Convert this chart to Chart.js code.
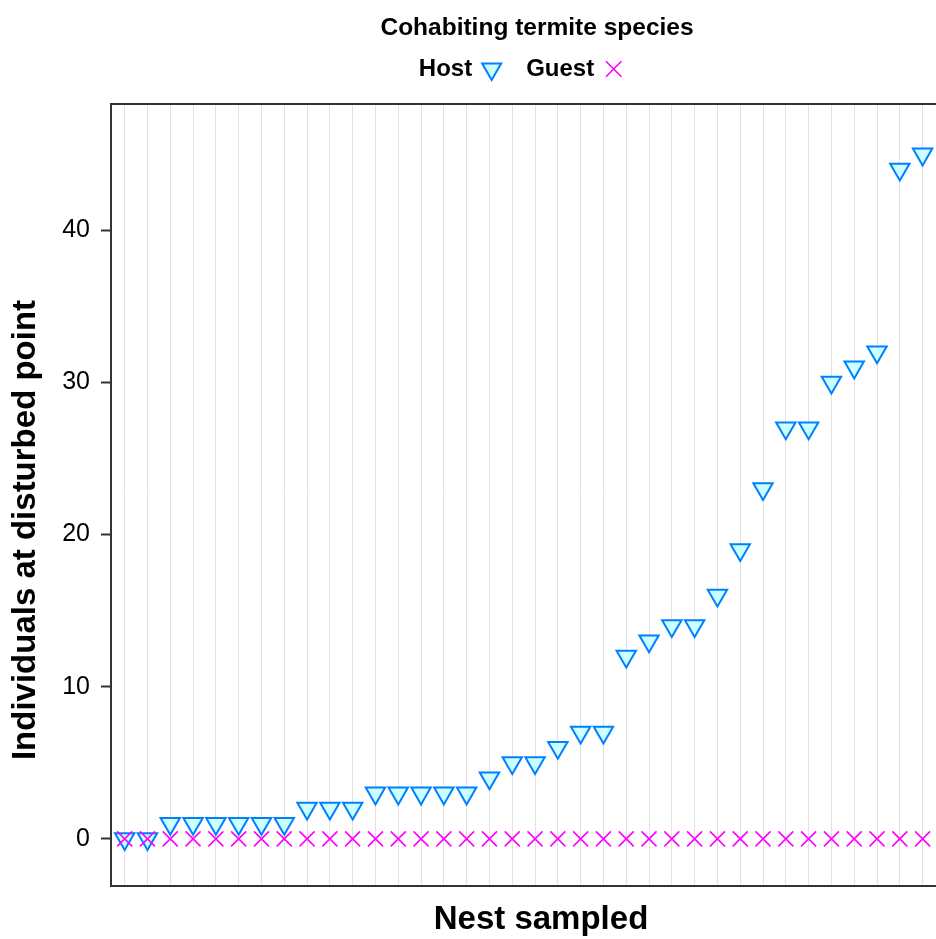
<!DOCTYPE html>
<html>
<head>
<meta charset="utf-8">
<script src="https://cdn.jsdelivr.net/npm/chart.js@4"></script>
<style>
  html, body { margin: 0; padding: 0; background: #fff; overflow: hidden; }
  canvas { display: block; }
</style>
</head>
<body>
<canvas id="nestChart" width="1040" height="939"></canvas>
<script>
// one entry per nest sampled, sorted by host count
const nests = ['1', '2', '3', '4', '5', '6', '7', '8', '9', '10', '11', '12',
    '13', '14', '15', '16', '17', '18', '19', '20', '21', '22', '23', '24',
    '25', '26', '27', '28', '29', '30', '31', '32', '33', '34', '35', '36'];
const hostCounts = [0, 0, 1, 1, 1, 1, 1, 1, 2, 2, 2, 3, 3, 3, 3, 3, 4, 5, 5, 6,
    7, 7, 12, 13, 14, 14, 16, 19, 23, 27, 27, 30, 31, 32, 44, 45];
const guestCounts = [0, 0, 0, 0, 0, 0, 0, 0, 0, 0, 0, 0, 0, 0, 0, 0, 0, 0, 0, 0,
    0, 0, 0, 0, 0, 0, 0, 0, 0, 0, 0, 0, 0, 0, 0, 0];
const yTicks = [0, 10, 20, 30, 40];

const FONT = '"Liberation Sans", Arial, Helvetica, sans-serif';

// title and axis titles sit off-centre in the original, so draw them by hand
const extraText = {
    id: 'extraText',
    afterDraw(chart) {
        const ctx = chart.ctx;
        ctx.save();
        ctx.fillStyle = '#000';
        ctx.textAlign = 'center';
        ctx.textBaseline = 'alphabetic';
        ctx.font = 'bold 24.5px ' + FONT;
        ctx.fillText('Cohabiting termite species', 537, 35);
        ctx.font = 'bold 33px ' + FONT;
        ctx.fillText('Nest sampled', 541, 929);
        ctx.translate(35, 530);
        ctx.rotate(-Math.PI / 2);
        ctx.fillText('Individuals at disturbed point', 0, 0);
        ctx.restore();
    }
};

function toPoints(values) {
    return values.map((v, i) => ({ x: i, y: v }));
}

new Chart(document.getElementById('nestChart'), {
    type: 'scatter',
    data: {
        datasets: [{
            label: 'Host',
            data: toPoints(hostCounts),
            pointStyle: 'triangle',
            pointRotation: 180,
            pointRadius: 11.2,
            pointHoverRadius: 11.2,
            backgroundColor: '#ccffff',
            borderColor: '#0080ff',
            borderWidth: 2,
            order: 2
        }, {
            label: 'Guest',
            data: toPoints(guestCounts),
            pointStyle: 'crossRot',
            pointRadius: 10.6,
            pointHoverRadius: 10.6,
            backgroundColor: '#ff00ff',
            borderColor: '#ff00ff',
            borderWidth: 1.6,
            order: 1
        }]
    },
    options: {
        responsive: false,
        animation: false,
        devicePixelRatio: 1,
        layout: { padding: { top: 30, left: 0, right: 0, bottom: 0 } },
        plugins: {
            title: { display: false },
            tooltip: { enabled: false },
            legend: {
                position: 'top',
                rtl: true,
                labels: {
                    usePointStyle: true,
                    boxWidth: 15,
                    boxHeight: 15.5,
                    padding: 27,
                    color: '#000',
                    font: { family: FONT, size: 24, weight: 'bold' }
                }
            }
        },
        scales: {
            x: {
                type: 'linear',
                position: 'bottom',
                min: -0.6,
                max: 39.57,
                afterBuildTicks: s => { s.ticks = nests.map((_, i) => ({ value: i })); },
                afterFit: s => { s.height = 53; },
                ticks: { display: false },
                grid: { color: '#e2e2e2', lineWidth: 1, drawTicks: false },
                border: { color: '#333', width: 2 }
            },
            x2: {
                type: 'linear',
                position: 'top',
                display: true,
                min: 0,
                max: 1,
                afterFit: s => { s.height = 13; },
                ticks: { display: false },
                grid: { display: false, drawTicks: false },
                border: { color: '#333', width: 2 }
            },
            y: {
                type: 'linear',
                position: 'left',
                min: -3.1,
                max: 48.3,
                afterBuildTicks: s => { s.ticks = yTicks.map(v => ({ value: v })); },
                afterFit: s => { s.width = 111; },
                ticks: { color: '#000', padding: 11, font: { family: FONT, size: 25 } },
                grid: { drawOnChartArea: false, tickLength: 10, tickColor: '#333', tickWidth: 2 },
                border: { color: '#333', width: 2 }
            }
        }
    },
    plugins: [extraText]
});
</script>
</body>
</html>
